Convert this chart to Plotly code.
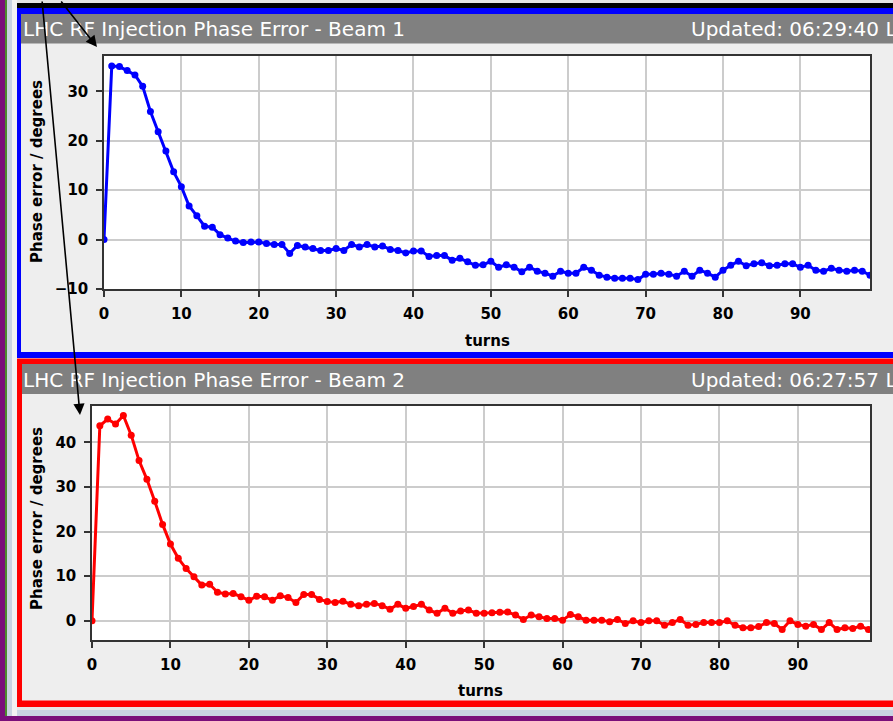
import plotly.graph_objects as go

W, H = 893, 721

turns = list(range(100))

beam1_phase = [
    0.0, 35.1, 35.0, 34.2, 33.3, 31.0, 25.9, 21.8, 17.9, 13.7,
    10.7, 6.8, 4.8, 2.7, 2.5, 1.0, 0.3, -0.3, -0.6, -0.5,
    -0.5, -0.8, -1.0, -1.0, -2.8, -1.2, -1.5, -1.8, -2.2, -2.2,
    -1.8, -2.2, -1.0, -1.5, -1.0, -1.5, -1.3, -2.0, -2.2, -2.7,
    -2.3, -2.3, -3.4, -3.2, -3.2, -4.2, -3.8, -4.5, -5.2, -5.1,
    -4.4, -5.6, -5.1, -5.6, -6.5, -5.6, -6.4, -6.8, -7.4, -6.4,
    -6.8, -6.8, -5.6, -6.2, -7.2, -7.6, -7.8, -7.8, -7.8, -8.1,
    -7.0, -7.0, -6.8, -7.0, -7.4, -6.4, -7.4, -6.2, -6.8, -7.6,
    -6.2, -5.2, -4.4, -5.3, -4.9, -4.7, -5.3, -5.2, -4.9, -4.9,
    -5.6, -5.2, -6.2, -6.4, -5.8, -6.2, -6.4, -6.2, -6.4, -7.2,
]

beam2_phase = [
    0.0, 43.7, 45.2, 44.1, 46.0, 41.6, 35.9, 31.7, 26.8, 21.6,
    17.2, 14.0, 11.7, 9.9, 8.0, 8.2, 6.4, 6.0, 6.1, 5.4,
    4.6, 5.5, 5.4, 4.6, 5.6, 5.2, 4.1, 5.9, 5.9, 4.8,
    4.3, 4.1, 4.4, 3.7, 3.4, 3.7, 3.9, 3.4, 2.6, 3.7,
    2.8, 3.2, 3.7, 2.4, 1.7, 2.8, 1.7, 2.2, 2.4, 1.7,
    1.7, 1.8, 1.9, 2.0, 1.3, 0.3, 1.3, 0.9, 0.5, 0.5,
    0.15, 1.4, 0.9, 0.15, 0.15, 0.15, -0.2, 0.3, -0.6, 0.0,
    -0.4, 0.0, 0.0, -1.0, -0.4, 0.3, -1.0, -0.8, -0.4, -0.4,
    -0.4, 0.0, -1.0, -1.55, -1.55, -1.3, -0.4, -0.6, -1.95, 0.0,
    -0.8, -1.2, -0.8, -1.95, -0.4, -1.95, -1.55, -1.7, -1.2, -1.95,
]

x_ticks = [0, 10, 20, 30, 40, 50, 60, 70, 80, 90]
y1_ticks = [-10, 0, 10, 20, 30]
y2_ticks = [0, 10, 20, 30, 40]

title1 = "LHC RF Injection Phase Error - Beam 1"
title2 = "LHC RF Injection Phase Error - Beam 2"
upd1 = "Updated: 06:29:40 L"
upd2 = "Updated: 06:27:57 L"
x_title = "turns"
y_title = "Phase error / degrees"


def px(x):
    return x / W


def py(y):
    return 1 - y / H


def rect(x0, y0, x1, y1, color):
    return dict(type="rect", xref="paper", yref="paper", layer="below",
                x0=px(x0), x1=px(x1), y0=py(y1), y1=py(y0),
                fillcolor=color, line=dict(width=0))


PANEL = "#EEEEEE"
shapes = [
    rect(0, 0, W, 3, "#E4E4E4"),
    rect(0, 0, 5, H, "#7A0F7A"),
    rect(5, 0, 7, H, "#4E8A2E"),
    rect(7, 0, 12, H, "#C9D3E2"),
    rect(12, 0, 17, H, "#F2F2F2"),
    rect(17, 3, W, 8, "#000000"),
    # beam 1 panel
    rect(17, 8, W, 358, "#0000FF"),
    rect(21, 14, W, 352, PANEL),
    rect(21, 14, W, 43.5, "#808080"),
    # beam 2 panel
    rect(17, 358.5, W, 707, "#FF0000"),
    rect(22, 364, W, 700.5, PANEL),
    rect(22, 364, W, 394, "#808080"),
    # bottom frame
    rect(17, 707, W, 710, "#E6E6E6"),
    rect(17, 710, W, 716, "#C9D3E2"),
    rect(0, 716, W, H, "#7A0F7A"),
    # plot areas
    rect(104, 55.7, 870, 289, "#FFFFFF"),
    rect(92, 405.7, 870, 640, "#FFFFFF"),
]

fig = go.Figure()
fig.add_trace(go.Scatter(
    x=turns, y=beam1_phase, mode="lines+markers", xaxis="x", yaxis="y",
    line=dict(color="#0000FF", width=3), marker=dict(color="#0000FF", size=7),
    showlegend=False, cliponaxis=True))
fig.add_trace(go.Scatter(
    x=turns, y=beam2_phase, mode="lines+markers", xaxis="x2", yaxis="y2",
    line=dict(color="#FF0000", width=3), marker=dict(color="#FF0000", size=7),
    showlegend=False, cliponaxis=True))

tickfont = dict(family="DejaVu Sans", size=15, color="#000000", weight="bold")
axis_common = dict(
    showgrid=True, gridcolor="#CCCCCC", gridwidth=1.5,
    showline=True, linecolor="#333333", linewidth=1.5, mirror=True,
    ticks="outside", ticklen=6, tickwidth=1.5, tickcolor="#333333",
    tickfont=tickfont, zeroline=False, fixedrange=True, automargin=False,
)

fig.update_layout(
    width=W, height=H,
    margin=dict(l=0, r=0, t=0, b=0, pad=0, autoexpand=False),
    paper_bgcolor=PANEL, plot_bgcolor="#FFFFFF",
    shapes=shapes,
    xaxis=dict(domain=[px(104), px(870)], range=[0, 99], anchor="y",
               tickvals=x_ticks, ticklabelstandoff=4, **axis_common),
    yaxis=dict(domain=[py(289), py(55.7)], range=[-10, 37.2], anchor="x",
               tickvals=y1_ticks, ticklabelstandoff=5, **axis_common),
    xaxis2=dict(domain=[px(92), px(870)], range=[0, 99.2], anchor="y2",
                tickvals=x_ticks, ticklabelstandoff=4, **axis_common),
    yaxis2=dict(domain=[py(640), py(405.7)], range=[-4.3, 48.2], anchor="x2",
                tickvals=y2_ticks, ticklabelstandoff=5, **axis_common),
)

ann = []
title_font = dict(family="DejaVu Sans", size=20, color="#FFFFFF")
ann.append(dict(text=title1, x=px(21), y=py(29.5), xref="paper", yref="paper",
                xanchor="left", yanchor="middle", showarrow=False, font=title_font))
ann.append(dict(text=upd1, x=px(689), y=py(29.5), xref="paper", yref="paper",
                xanchor="left", yanchor="middle", showarrow=False, font=title_font))
ann.append(dict(text=title2, x=px(21), y=py(379.5), xref="paper", yref="paper",
                xanchor="left", yanchor="middle", showarrow=False, font=title_font))
ann.append(dict(text=upd2, x=px(689), y=py(379.5), xref="paper", yref="paper",
                xanchor="left", yanchor="middle", showarrow=False, font=title_font))

lab_font = dict(family="DejaVu Sans", size=15, color="#000000", weight="bold")
ann.append(dict(text=x_title, x=px(487), y=py(341), xref="paper", yref="paper",
                xanchor="center", yanchor="middle", showarrow=False, font=lab_font))
ann.append(dict(text=x_title, x=px(481), y=py(691), xref="paper", yref="paper",
                xanchor="center", yanchor="middle", showarrow=False, font=lab_font))
ann.append(dict(text=y_title, x=px(37), y=py(172), xref="paper", yref="paper",
                xanchor="center", yanchor="middle", textangle=-90, showarrow=False,
                font=lab_font))
ann.append(dict(text=y_title, x=px(37), y=py(519), xref="paper", yref="paper",
                xanchor="center", yanchor="middle", textangle=-90, showarrow=False,
                font=lab_font))

# pointer arrows
ann.append(dict(text="", x=px(80), y=py(415), xref="paper", yref="paper",
                ax=-38, ay=-420, axref="pixel", ayref="pixel",
                showarrow=True, arrowhead=2, arrowsize=1.4, arrowwidth=1.6,
                arrowcolor="#000000"))
ann.append(dict(text="", x=px(97), y=py(47), xref="paper", yref="paper",
                ax=-37, ay=-52, axref="pixel", ayref="pixel",
                showarrow=True, arrowhead=2, arrowsize=1.4, arrowwidth=1.6,
                arrowcolor="#000000"))

fig.update_layout(annotations=ann)

fig.write_html("out.html")
